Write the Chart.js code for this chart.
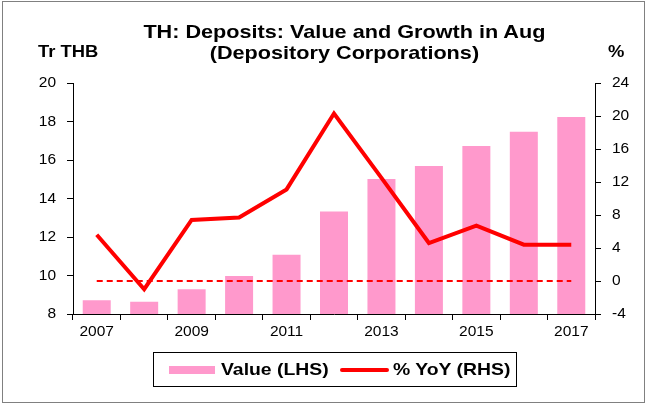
<!DOCTYPE html>
<html lang="en">
<head>
    <meta charset="UTF-8">
    <title>TH Deposits</title>
    <script src="https://cdn.jsdelivr.net/npm/chart.js"></script>
</head>
<style>
body{
    margin: 0;
    background: #fff;
    font-family: "Liberation Sans", Arial, sans-serif;
}
#wrap{
    position: relative;
    width: 647px;
    height: 404px;
    overflow: hidden;
}
#frame{
    position: absolute;
    left: 2px; top: 1px; right: 2px; bottom: 1px;
    border: 1px solid #808080;
    pointer-events: none;
}
#title{
    position: absolute;
    left: 21px; width: 647px;
    top: 21px;
    text-align: center;
    font-weight: bold;
    font-size: 18.5px;
    line-height: 21px;
    transform: scaleX(1.17);
    transform-origin: 324px 0;
}
.unit{
    position: absolute;
    top: 42px;
    font-weight: bold;
    font-size: 16.3px;
    transform: scaleX(1.13);
    transform-origin: left top;
}
#legend{
    position: absolute;
    left: 153px; top: 352px;
    width: 362px; height: 33px;
    border: 1px solid #000;
    font-weight: bold;
    font-size: 17px;
}
.item{
    position: absolute;
    top: 7px;
    line-height: 19px;
    transform: scaleX(1.14);
    transform-origin: left top;
}
.swatch{
    position: absolute;
}
</style>
<body>
<div id="wrap">
    <canvas id="depChart" width="647" height="404"></canvas>
    <div id="title">TH: Deposits: Value and Growth in Aug<br>(Depository Corporations)</div>
    <div class="unit" style="left:38px">Tr THB</div>
    <div class="unit" style="left:608px">%</div>
    <div id="legend">
        <div class="swatch" style="left:15px;top:13px;width:46px;height:8px;background:#ff99cc"></div>
        <div class="item" style="left:67px">Value (LHS)</div>
        <div class="swatch" style="left:186px;top:15px;width:49px;height:4px;background:#ff0000;border-radius:2px"></div>
        <div class="item" style="left:239px">% YoY (RHS)</div>
    </div>
    <div id="frame"></div>
</div>
<script>
    var years = ['2007','2008','2009','2010','2011','2012','2013','2014','2015','2016','2017'];
    var depositValue = [8.71, 8.64, 9.28, 9.97, 11.08, 13.33, 15.01, 15.69, 16.73, 17.47, 18.23];
    var yoyGrowth = [5.6, -1.0, 7.4, 7.7, 11.1, 20.3, 12.5, 4.6, 6.7, 4.4, 4.4];
    var zeroLine = [0, 0, 0, 0, 0, 0, 0, 0, 0, 0, 0];

    var fontBase = { family: '"Liberation Sans", Arial, sans-serif', size: 15.5 };

    var ctx = document.getElementById('depChart').getContext('2d');
    window.myChart = new Chart(ctx, {
        type: 'bar',
        data: {
            labels: years,
            datasets: [{
                label: '% YoY (RHS)',
                type: 'line',
                data: yoyGrowth,
                yAxisID: 'y1',
                borderColor: '#ff0000',
                borderWidth: 4,
                pointRadius: 0,
                tension: 0,
                order: 0
            }, {
                label: 'zero',
                type: 'line',
                data: zeroLine,
                yAxisID: 'y1',
                borderColor: '#ff0000',
                borderWidth: 2,
                borderDash: [6, 4],
                pointRadius: 0,
                order: 1
            }, {
                label: 'Value (LHS)',
                data: depositValue,
                yAxisID: 'y',
                backgroundColor: '#ff99cc',
                barPercentage: 0.59,
                categoryPercentage: 1,
                order: 2
            }]
        },
        options: {
            responsive: false,
            animation: false,
            events: [],
            layout: {
                padding: { left: 0, right: 0, top: 83, bottom: 0 }
            },
            plugins: {
                legend: { display: false },
                tooltip: { enabled: false }
            },
            scales: {
                x: {
                    offset: true,
                    border: { color: '#000', width: 1 },
                    grid: {
                        offset: true,
                        drawOnChartArea: false,
                        drawTicks: true,
                        tickLength: 6,
                        color: '#000'
                    },
                    ticks: {
                        autoSkip: false,
                        maxRotation: 0,
                        color: '#000',
                        font: fontBase,
                        padding: 2,
                        callback: function (val, i) {
                            return i % 2 === 0 ? years[i] : '';
                        }
                    },
                    afterFit: function (scale) { scale.height = 90; }
                },
                y: {
                    position: 'left',
                    min: 8,
                    max: 20,
                    border: { color: '#000', width: 1 },
                    grid: {
                        drawOnChartArea: false,
                        tickLength: 6,
                        color: '#000'
                    },
                    ticks: {
                        stepSize: 2,
                        color: '#000',
                        font: fontBase,
                        padding: 11
                    },
                    afterFit: function (scale) { scale.width = 73; }
                },
                y1: {
                    position: 'right',
                    min: -4,
                    max: 24,
                    border: { color: '#000', width: 1 },
                    grid: {
                        drawOnChartArea: false,
                        tickLength: 6,
                        color: '#000'
                    },
                    ticks: {
                        stepSize: 4,
                        color: '#000',
                        font: fontBase,
                        padding: 11
                    },
                    afterFit: function (scale) { scale.width = 52; }
                }
            }
        }
    });
</script>
</body>
</html>
